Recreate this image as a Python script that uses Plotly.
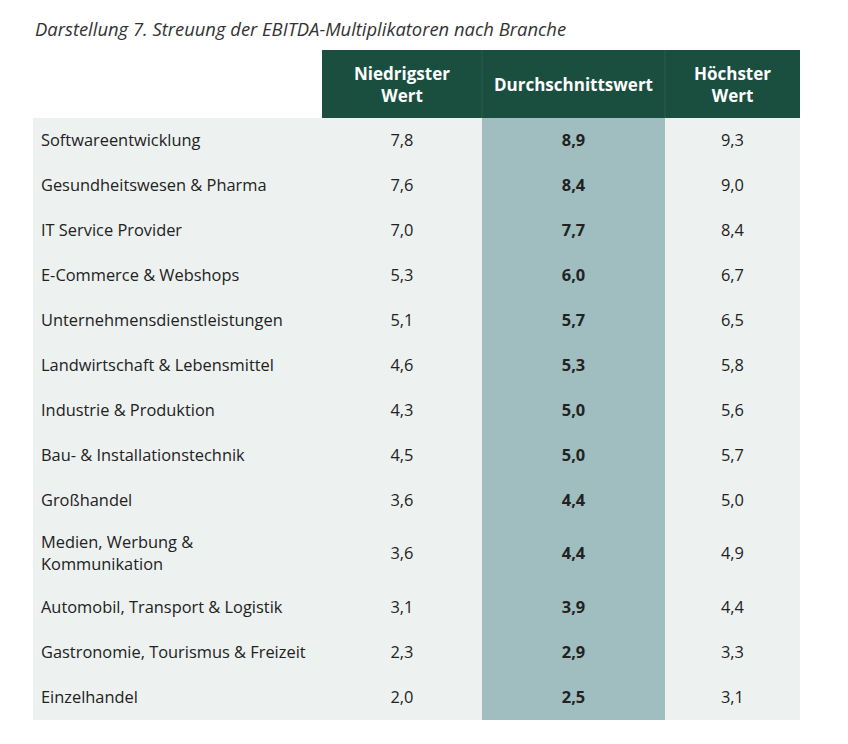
import plotly.graph_objects as go

# Branchen und EBITDA-Multiplikatoren
branchen = [
    "Softwareentwicklung",
    "Gesundheitswesen & Pharma",
    "IT Service Provider",
    "E-Commerce & Webshops",
    "Unternehmensdienstleistungen",
    "Landwirtschaft & Lebensmittel",
    "Industrie & Produktion",
    "Bau- & Installationstechnik",
    "Großhandel",
    "Medien, Werbung &<br>Kommunikation",
    "Automobil, Transport & Logistik",
    "Gastronomie, Tourismus & Freizeit",
    "Einzelhandel",
]
niedrigster = [7.8, 7.6, 7.0, 5.3, 5.1, 4.6, 4.3, 4.5, 3.6, 3.6, 3.1, 2.3, 2.0]
durchschnitt = [8.9, 8.4, 7.7, 6.0, 5.7, 5.3, 5.0, 5.0, 4.4, 4.4, 3.9, 2.9, 2.5]
hoechster = [9.3, 9.0, 8.4, 6.7, 6.5, 5.8, 5.6, 5.7, 5.0, 4.9, 4.4, 3.3, 3.1]

kopf = ["Niedrigster<br>Wert", "Durchschnittswert", "Höchster<br>Wert"]

titel = "Darstellung 7. Streuung der EBITDA-Multiplikatoren nach Branche"


def de(v):
    # deutsches Dezimalkomma
    return f"{v:.1f}".replace(".", ",")


gruen = "#1a4f3f"
grau = "#edf1f0"
mitte = "#a0bdbf"
schrift = "Open Sans"

# Tabellengeometrie (Pixel im Fenster)
spalten = [33, 322, 482, 665, 800]
kopf_oben, kopf_unten = 50, 118
zeilenhoehe = [62 if "<br>" in b else 45 for b in branchen]

mitten_y = []
y = kopf_unten
for h in zeilenhoehe:
    mitten_y.append(y + h / 2 + 1)  # +1: Text optisch mittig
    y += h
tabelle_unten = y
mitten_x = [(spalten[i] + spalten[i + 1]) / 2 for i in range(1, 4)]

fig = go.Figure()

# Hintergründe
fig.add_shape(type="rect", x0=spalten[0], x1=spalten[4], y0=kopf_unten, y1=tabelle_unten,
              fillcolor=grau, line_width=0, layer="below")
fig.add_shape(type="rect", x0=spalten[2], x1=spalten[3], y0=kopf_unten, y1=tabelle_unten,
              fillcolor=mitte, line_width=0, layer="below")
fig.add_shape(type="rect", x0=spalten[1], x1=spalten[4], y0=kopf_oben, y1=kopf_unten,
              fillcolor=gruen, line_width=0, layer="below")
for sx in spalten[2:4]:
    fig.add_shape(type="line", x0=sx, x1=sx, y0=kopf_oben, y1=kopf_unten,
                  line=dict(color="#2b5d4e", width=1), layer="below")

# Kopfzeile
fig.add_trace(go.Scatter(
    x=mitten_x, y=[(kopf_oben + kopf_unten) / 2 + 3] * 3,
    text=[f"<b>{k}</b>" for k in kopf], mode="text",
    textfont=dict(family=schrift, size=17, color="white"),
    textposition="middle center", hoverinfo="skip",
))

# Branchen
fig.add_trace(go.Scatter(
    x=[spalten[0] + 8] * len(branchen), y=mitten_y,
    text=branchen, mode="text",
    textfont=dict(family=schrift, size=16.4, color="#222222"),
    textposition="middle right", hoverinfo="skip",
))

# Werte
for i, (werte, fett) in enumerate([(niedrigster, False), (durchschnitt, True), (hoechster, False)]):
    fig.add_trace(go.Scatter(
        x=[mitten_x[i]] * len(werte), y=mitten_y,
        text=[f"<b>{de(v)}</b>" if fett else de(v) for v in werte], mode="text",
        textfont=dict(family=schrift, size=16.4, color="#222222"),
        textposition="middle center", hoverinfo="skip",
    ))

# Seite hat 8px Rand, daher Achsen um 8 verschoben
fig.update_layout(
    width=848, height=744,
    margin=dict(l=0, r=0, t=0, b=0),
    paper_bgcolor="white", plot_bgcolor="white",
    showlegend=False,
    xaxis=dict(range=[8, 856], visible=False, fixedrange=True),
    yaxis=dict(range=[752, 8], visible=False, fixedrange=True),
    annotations=[dict(
        text=f"<i>{titel}</i>", x=spalten[0], y=28, xref="x", yref="y",
        xanchor="left", yanchor="middle", showarrow=False,
        font=dict(family=schrift, size=18.4, color="#333333"),
    )],
)

fig.write_html("out.html")
